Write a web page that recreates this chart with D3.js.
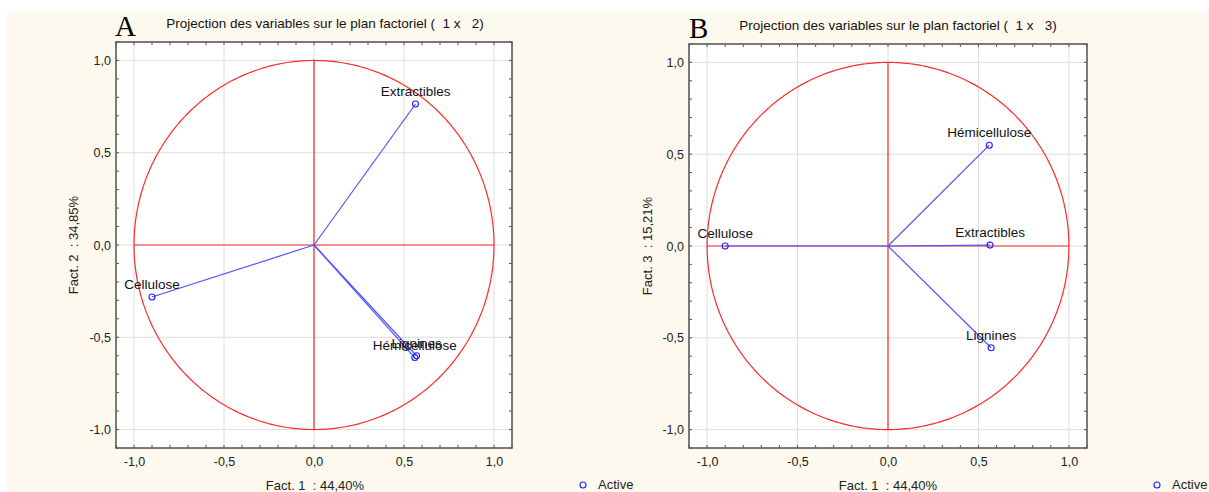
<!DOCTYPE html>
<html><head><meta charset="utf-8">
<script src="https://cdn.jsdelivr.net/npm/d3@7"></script>
<style>body{margin:0;background:#fff;} text{font-family:"Liberation Sans",Arial,sans-serif; white-space:pre;}</style>
</head><body>
<svg id="c" width="1209" height="492"></svg>
<script>
const variables = ["Extractibles", "Cellulose", "Lignines", "Hémicellulose"];
const fact1 = [0.564, -0.900, 0.570, 0.560];
const fact2 = [0.764, -0.282, -0.600, -0.610];
const fact3 = [0.005, 0.000, -0.554, 0.549];
const tickValues = [-1.0, -0.5, 0.0, 0.5, 1.0];
const panelLetters = ["A", "B"];
const titles = ["Projection des variables sur le plan factoriel (  1 x   2)", "Projection des variables sur le plan factoriel (  1 x   3)"];
const xLabels = ["Fact. 1  : 44,40%", "Fact. 1  : 44,40%"];
const yLabels = ["Fact. 2  : 34,85%", "Fact. 3  : 15,21%"];
const legendLabel = "Active";

const svg = d3.select("#c");
svg.append("rect").attr("x",7).attr("y",11).attr("width",1202).attr("height",481).attr("fill","#fef9ee");

const fmt = v => d3.format(".1f")(v).replace(".", ",").replace("\u2212", "-");

const panels = [
  {left:116, right:512, top:42, bottom:448, ys:fact2, letterX:115, letterY:36, titleX:325, titleY:28, yLabX:78, legX:583},
  {left:689, right:1087, top:44, bottom:448, ys:fact3, letterX:689, letterY:38, titleX:898, titleY:30, yLabX:652, legX:1157}
];

panels.forEach((p, i) => {
  const x = d3.scaleLinear().domain([-1.1, 1.1]).range([p.left, p.right]);
  const y = d3.scaleLinear().domain([-1.1, 1.1]).range([p.bottom, p.top]);
  const g = svg.append("g");
  g.append("rect").attr("x",p.left).attr("y",p.top).attr("width",p.right-p.left).attr("height",p.bottom-p.top).attr("fill","#fff");
  tickValues.forEach(t => {
    g.append("line").attr("x1",x(t)).attr("x2",x(t)).attr("y1",p.top).attr("y2",p.bottom).attr("stroke","#dedede");
    g.append("line").attr("y1",y(t)).attr("y2",y(t)).attr("x1",p.left).attr("x2",p.right).attr("stroke","#dedede");
  });
  const minor = d3.range(-11, 12).map(d => d / 10);
  const xAxis = d3.axisBottom(x).tickValues(tickValues).tickFormat(fmt).tickSize(0).tickPadding(9);
  const gx = g.append("g").attr("transform",`translate(0,${p.bottom})`).call(xAxis);
  gx.select(".domain").remove();
  gx.selectAll("text").attr("font-size",12.5).attr("fill","#222").style("font-family","Liberation Sans, Arial, sans-serif");
  const yAxis = d3.axisLeft(y).tickValues(tickValues).tickFormat(fmt).tickSize(0).tickPadding(5);
  const gy = g.append("g").attr("transform",`translate(${p.left},0)`).call(yAxis);
  gy.select(".domain").remove();
  gy.selectAll("text").attr("font-size",12.5).attr("fill","#222").style("font-family","Liberation Sans, Arial, sans-serif");
  minor.forEach(t => {
    const len = 3;
    g.append("line").attr("x1",x(t)).attr("x2",x(t)).attr("y1",p.bottom).attr("y2",p.bottom-len).attr("stroke","#555");
    g.append("line").attr("x1",x(t)).attr("x2",x(t)).attr("y1",p.top).attr("y2",p.top+len).attr("stroke","#555");
    g.append("line").attr("y1",y(t)).attr("y2",y(t)).attr("x1",p.left).attr("x2",p.left+len).attr("stroke","#555");
    g.append("line").attr("y1",y(t)).attr("y2",y(t)).attr("x1",p.right).attr("x2",p.right-len).attr("stroke","#555");
  });
  const circ = d3.range(0, 361, 1).map(a => [x(Math.cos(a*Math.PI/180)), y(Math.sin(a*Math.PI/180))]);
  g.append("path").attr("d", d3.line()(circ)).attr("fill","none").attr("stroke","#ff2a2a").attr("stroke-width",1.2);
  g.append("line").attr("x1",x(-1)).attr("x2",x(1)).attr("y1",y(0)).attr("y2",y(0)).attr("stroke","#ff2a2a").attr("stroke-width",1.2);
  g.append("line").attr("x1",x(0)).attr("x2",x(0)).attr("y1",y(-1)).attr("y2",y(1)).attr("stroke","#ff2a2a").attr("stroke-width",1.2);
  g.append("rect").attr("x",p.left).attr("y",p.top).attr("width",p.right-p.left).attr("height",p.bottom-p.top).attr("fill","none").attr("stroke","#5a5a5a").attr("stroke-width",1.6);
  variables.forEach((v, k) => {
    g.append("line").attr("x1",x(0)).attr("y1",y(0)).attr("x2",x(fact1[k])).attr("y2",y(p.ys[k])).attr("stroke","#5252ff").attr("stroke-width",1.2);
  });
  variables.forEach((v, k) => {
    g.append("circle").attr("cx",x(fact1[k])).attr("cy",y(p.ys[k])).attr("r",3).attr("fill","none").attr("stroke","#2222ff").attr("stroke-width",1.1);
    g.append("text").attr("x",x(fact1[k])).attr("y",y(p.ys[k])-8).attr("text-anchor","middle").attr("font-size",13.5).attr("fill","#111").text(v);
  });
  svg.append("text").attr("x",p.letterX).attr("y",p.letterY).attr("font-size",29).style("font-family","Liberation Serif, Times New Roman, serif").attr("fill","#000").text(panelLetters[i]);
  svg.append("text").attr("x",p.titleX).attr("y",p.titleY).attr("text-anchor","middle").attr("font-size",13.5).attr("fill","#111").text(titles[i]);
  svg.append("text").attr("x",(p.left+p.right)/2 - (i===0?-1:0)).attr("y",490).attr("text-anchor","middle").attr("font-size",13).attr("fill","#222").text(xLabels[i]);
  svg.append("text").attr("transform",`translate(${p.yLabX},${y(0)}) rotate(-90)`).attr("text-anchor","middle").attr("font-size",13).attr("fill","#222").text(yLabels[i]);
  svg.append("circle").attr("cx",p.legX).attr("cy",485).attr("r",3).attr("fill","none").attr("stroke","#2222ff").attr("stroke-width",1.1);
  svg.append("text").attr("x",p.legX+15).attr("y",489).attr("font-size",13).attr("fill","#222").text(legendLabel);
});
</script>
</body></html>
